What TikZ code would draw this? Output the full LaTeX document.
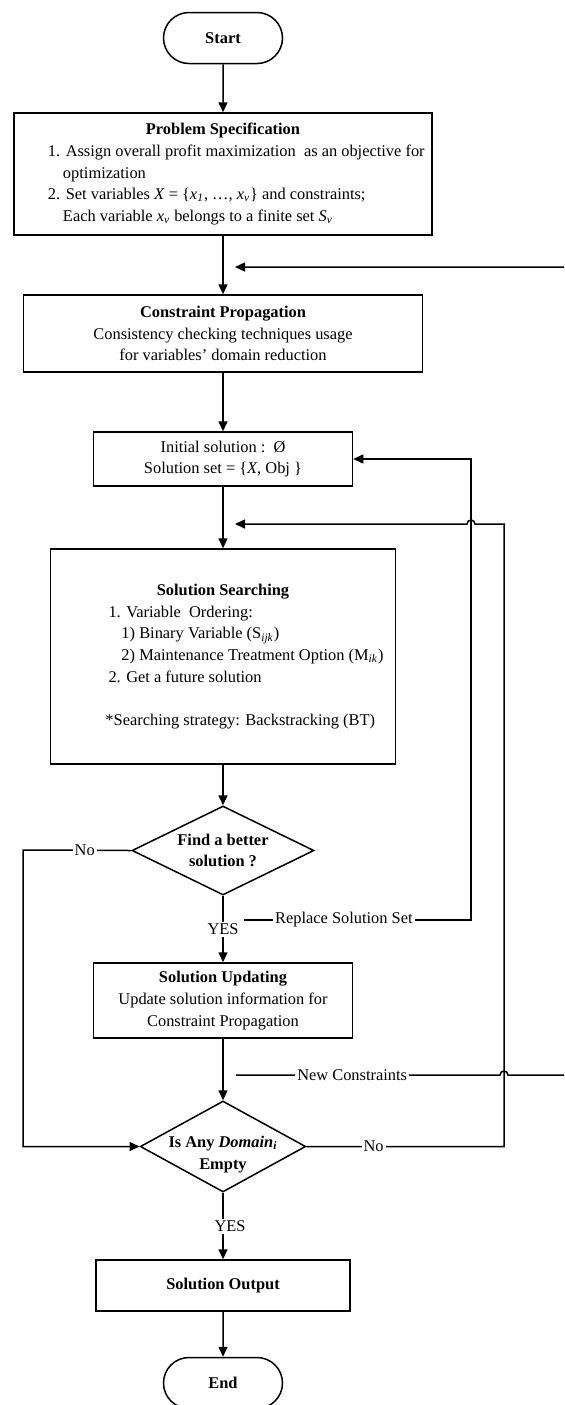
\documentclass[tikz,border=0pt]{standalone}
\usepackage{fontspec}
\setmainfont{Liberation Serif}
\usetikzlibrary{shapes.geometric,shapes.misc,arrows.meta}

\begin{document}
            \begin{tikzpicture}[x=0.5pt, y=-0.5pt,
                every node/.style={font=\fontsize{8.2pt}{10.85pt}\selectfont},
                box/.style={draw, line width=0.75pt, inner sep=0pt, align=center},
                term/.style={draw, rounded rectangle, line width=0.75pt, minimum width=59.5pt, minimum height=25.5pt, inner sep=0pt},
                decide/.style={draw, diamond, aspect=2, line width=0.75pt, inner sep=0pt, align=center},
                arr/.style={-{Triangle[length=5pt,width=4.5pt]}, line width=0.75pt},
                wire/.style={line width=0.75pt},
                tag/.style={fill=white, inner sep=1pt}]
                \useasboundingbox (0, 0) rectangle (564, 1405);
                \clip (0, 0) rectangle (564, 1405);

                % blocks
                \node (start) at (223, 38) [term] {\textbf{Start}};
                \node (spec) at (223, 174) [box, minimum width=209pt, minimum height=61pt, align=left] {%
                    \makebox[209pt]{\textbf{Problem Specification}}\\
                    \hspace*{17pt}1. Assign overall profit maximization\ \ as an objective for\\
                    \hspace*{24.5pt}optimization\\
                    \hspace*{17pt}2. Set variables \textit{X} = \{\textit{x}\textsubscript{\textit{1}}, …, \textit{x}\textsubscript{\textit{v}}\} and constraints;\\
                    \hspace*{24.5pt}Each variable \textit{x}\textsubscript{\textit{v}} belongs to a finite set \textit{S}\textsubscript{\textit{v}}};
                \node (prop) at (223, 333.5) [box, minimum width=199.5pt, minimum height=38.5pt] {\textbf{Constraint Propagation}\\Consistency checking techniques usage\\for variables' domain reduction};
                \node (init) at (223, 459) [box, minimum width=129.5pt, minimum height=27pt] {Initial solution :\ \ Ø\\Solution set = \{\textit{X}, Obj \}};
                \node (search) at (223, 656.5) [box, minimum width=172.5pt, minimum height=107.5pt, align=left] {%
                    \makebox[172.5pt]{\textbf{Solution Searching}}\\
                    \hspace*{29pt}1. Variable\ \ Ordering:\\
                    \hspace*{35.5pt}1) Binary Variable (S\textsubscript{\textit{ijk}})\\
                    \hspace*{35.5pt}2) Maintenance Treatment Option (M\textsubscript{\textit{ik}})\\
                    \hspace*{29pt}2. Get a future solution\\[10.85pt]
                    \hspace*{27.5pt}*Searching strategy: Backstracking (BT)};
                \node (better) at (223, 850.5) [decide, minimum width=91pt, minimum height=44.5pt] {\textbf{Find a better}\\\textbf{solution ?}};
                \node (update) at (223, 1000.5) [box, minimum width=129.5pt, minimum height=37.5pt] {\textbf{Solution Updating}\\Update solution information for\\Constraint Propagation};
                \node (empty) at (223, 1146.5) [decide, inner xsep=-4pt, inner ysep=-4pt, minimum width=82.5pt, minimum height=45.5pt] {\rule{0pt}{13.5pt}\textbf{Is Any \textit{Domain}\textsubscript{\textit{i}}}\\\textbf{Empty}};
                \node (output) at (223, 1285.5) [box, minimum width=127pt, minimum height=25.5pt] {\textbf{Solution Output}};
                \node (stop) at (223, 1383) [term] {\textbf{End}};

                % free ends and corners of the loops
                \coordinate (in1) at (235, 267);
                \coordinate (in2) at (235, 524);
                \coordinate (rs) at (244, 920);
                \coordinate (rr) at (471, 459);
                \coordinate (nc) at (236, 1075);
                \coordinate (hop) at (500, 1075);
                \coordinate (far) at (590, 267);
                \coordinate (ret) at (504, 524);
                \coordinate (lc) at (23, 850);

                % main flow
                \draw (start)--(spec) [arr];
                \draw (spec)--(prop) [arr];
                \draw (prop)--(init) [arr];
                \draw (init)--(search) [arr];
                \draw (search)--(better) [arr];
                \draw (better)--(update) node[tag, midway] {YES} [arr];
                \draw (update)--(empty) [arr];
                \draw (empty)--(output) node[tag, midway, xshift=3.5pt] {YES} [arr];
                \draw (output)--(stop) [arr];

                % loops
                \draw (better.west)--(lc) node[tag, pos=0.43] {No} |- (empty.west) [arr];
                \draw (rs) -| (rr) node[tag, pos=0.22] {Replace Solution Set} -- (init.east) [arr];
                \draw (empty.east) -| (ret) node[tag, pos=0.17] {No} -- ++(-29, 0) arc[start angle=0, end angle=180, radius=2pt] -- (in2) [arr];
                \draw (nc)--(hop) node[tag, pos=0.44] {New Constraints} arc[start angle=180, end angle=0, radius=2pt] -| (far) -- (in1) [arr];
            \end{tikzpicture}
\end{document}
